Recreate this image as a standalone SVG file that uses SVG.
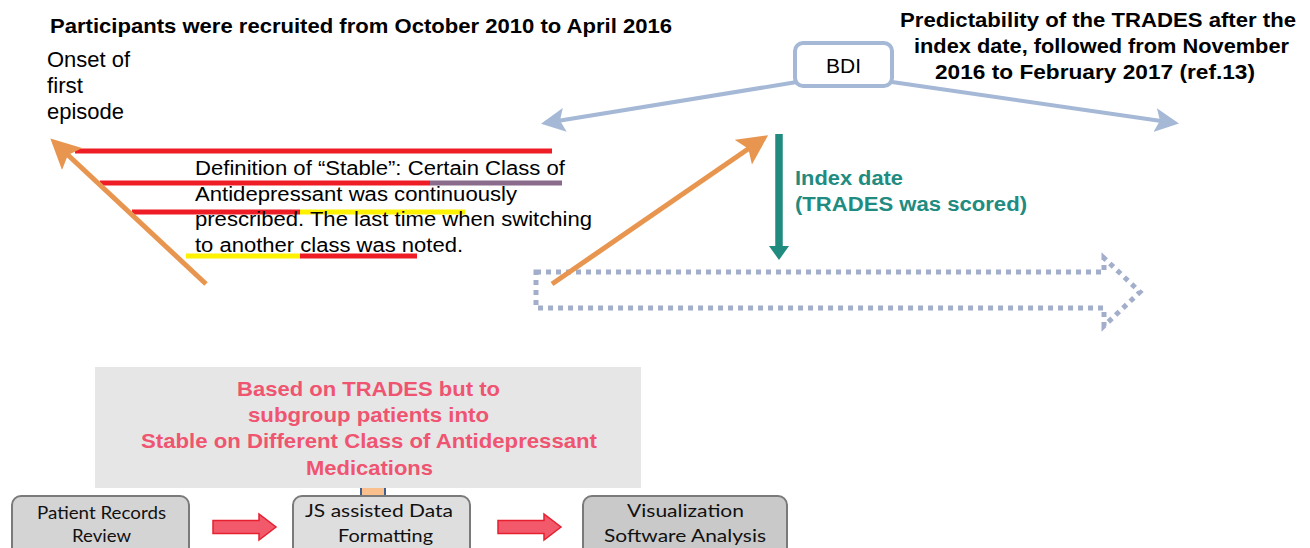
<svg xmlns="http://www.w3.org/2000/svg" width="1310" height="548" viewBox="0 0 1310 548">
<style>
.t{font-family:"Liberation Sans",Arial,sans-serif;fill:#000}
.b{font-weight:bold}
.teal{fill:#218b7f;font-weight:bold;font-family:"Liberation Sans",Arial,sans-serif}
.pink{fill:#ef5470;font-weight:bold;font-family:"Liberation Sans",Arial,sans-serif}
.cal{font-family:Lato,"Open Sans",sans-serif;fill:#111}
.box{stroke:#7a7a7a;stroke-width:2}
.blk{fill:#f25a6c;stroke:#e5202f;stroke-width:1.5}
</style>
<defs>
<marker id="mo" markerWidth="6" markerHeight="6" refX="5" refY="3" orient="auto" markerUnits="strokeWidth"><path d="M0,0 L6,3 L0,6 L1.2,3 Z" fill="#e8954f"/></marker>
<marker id="mb" markerWidth="6" markerHeight="6" refX="5" refY="3" orient="auto" markerUnits="strokeWidth"><path d="M0,0 L6,3 L0,6 L1.2,3 Z" fill="#a5b8d6"/></marker>
</defs>
<rect width="1310" height="548" fill="#fff"/>

<g id="title-left">
<text class="t b" x="50" y="33" font-size="20.5" textLength="622" lengthAdjust="spacingAndGlyphs">Participants were recruited from October 2010 to April 2016</text>
</g>
<g id="onset">
<text class="t" x="47" y="67" font-size="21.5" textLength="83" lengthAdjust="spacingAndGlyphs">Onset of</text>
<text class="t" x="47" y="93" font-size="21.5" textLength="36" lengthAdjust="spacingAndGlyphs">first</text>
<text class="t" x="47" y="119" font-size="21.5" textLength="77" lengthAdjust="spacingAndGlyphs">episode</text>
</g>
<g id="title-right">
<text class="t b" x="900" y="27" font-size="20" textLength="396" lengthAdjust="spacingAndGlyphs">Predictability of the TRADES after the</text>
<text class="t b" x="914" y="53" font-size="20" textLength="375" lengthAdjust="spacingAndGlyphs">index date, followed from November</text>
<text class="t b" x="935" y="79" font-size="20" textLength="320" lengthAdjust="spacingAndGlyphs">2016 to February 2017 (ref.13)</text>
</g>

<g id="stripes">
<line x1="75" y1="151" x2="552" y2="151" stroke="#ee1c25" stroke-width="5"/>
<line x1="100" y1="183" x2="430" y2="183" stroke="#ee1c25" stroke-width="5"/>
<line x1="430" y1="183" x2="562" y2="183" stroke="#8b6b8b" stroke-width="5"/>
<line x1="132" y1="212" x2="300" y2="212" stroke="#ee1c25" stroke-width="5"/>
<line x1="300" y1="212" x2="465" y2="212" stroke="#fff200" stroke-width="5"/>
<line x1="186" y1="256" x2="300" y2="256" stroke="#fff200" stroke-width="5"/>
<line x1="300" y1="256" x2="417" y2="256" stroke="#ee1c25" stroke-width="5"/>
</g>

<g id="definition">
<text class="t" x="195" y="175" font-size="19.5" textLength="370" lengthAdjust="spacingAndGlyphs">Definition of “Stable”: Certain Class of</text>
<text class="t" x="195" y="201" font-size="19.5" textLength="322" lengthAdjust="spacingAndGlyphs">Antidepressant was continuously</text>
<text class="t" x="195" y="226" font-size="19.5" textLength="397" lengthAdjust="spacingAndGlyphs">prescribed. The last time when switching</text>
<text class="t" x="195" y="252" font-size="19.5" textLength="268" lengthAdjust="spacingAndGlyphs">to another class was noted.</text>
</g>

<g id="timeline">
<path d="M536,272 H1104 V258 L1140,292 L1104,326 V308 H536 Z" fill="none" stroke="#a3aecb" stroke-width="5" stroke-dasharray="5,5"/>
</g>

<g id="bdi">
<rect x="795" y="43" width="97" height="43" rx="8" fill="#fff" stroke="#a5b8d6" stroke-width="4"/>
<text class="t" x="826" y="73" font-size="20.5" textLength="35" lengthAdjust="spacingAndGlyphs">BDI</text>
</g>

<g id="index-date">
<text class="teal" x="795" y="185" font-size="20" textLength="108" lengthAdjust="spacingAndGlyphs">Index date</text>
<text class="teal" x="795" y="211" font-size="20" textLength="232" lengthAdjust="spacingAndGlyphs">(TRADES was scored)</text>
</g>

<g id="connectors">
<line x1="206" y1="284" x2="54" y2="142" stroke="#e8954f" stroke-width="5" marker-end="url(#mo)"/>
<line x1="552" y1="284" x2="764" y2="138" stroke="#e8954f" stroke-width="5" marker-end="url(#mo)"/>
<line x1="797" y1="82" x2="545" y2="123" stroke="#a5b8d6" stroke-width="4" marker-end="url(#mb)"/>
<line x1="892" y1="82" x2="1175" y2="123" stroke="#a5b8d6" stroke-width="4" marker-end="url(#mb)"/>
<line x1="779" y1="134" x2="779" y2="248" stroke="#218b7f" stroke-width="7.5"/>
<path d="M769,246 H789 L779,260 Z" fill="#218b7f"/>
<path d="M213,520.5 H259 V514 L276,527 L259,540 V533.5 H213 Z" class="blk"/>
<path d="M498,520.5 H544 V514 L561,527 L544,540 V533.5 H498 Z" class="blk"/>
<rect x="361" y="488" width="24" height="8" fill="#f9c08d"/>
<line x1="361" y1="488" x2="361" y2="496" stroke="#3d5e8e" stroke-width="2"/>
<line x1="385" y1="488" x2="385" y2="496" stroke="#3d5e8e" stroke-width="2"/>
</g>

<g id="subgroup">
<rect x="95" y="367" width="546" height="121" fill="#e6e6e6"/>
<text class="pink" x="237" y="396" font-size="21" textLength="263" lengthAdjust="spacingAndGlyphs">Based on TRADES but to</text>
<text class="pink" x="248" y="422" font-size="21" textLength="241" lengthAdjust="spacingAndGlyphs">subgroup patients into</text>
<text class="pink" x="141" y="448" font-size="21" textLength="456" lengthAdjust="spacingAndGlyphs">Stable on Different Class of Antidepressant</text>
<text class="pink" x="306" y="475" font-size="21" textLength="127" lengthAdjust="spacingAndGlyphs">Medications</text>
</g>

<g id="review">
<rect class="box" x="12" y="496" width="177" height="64" rx="9" fill="#d4d4d4"/>
<text class="cal" x="37" y="519" font-size="17" textLength="129" lengthAdjust="spacingAndGlyphs">Patient Records</text>
<text class="cal" x="72" y="542" font-size="17" textLength="59" lengthAdjust="spacingAndGlyphs">Review</text>
</g>
<g id="formatting">
<rect class="box" x="293" y="496" width="177" height="64" rx="9" fill="#dedede"/>
<text class="cal" x="305" y="517" font-size="18" textLength="148" lengthAdjust="spacingAndGlyphs">JS assisted Data</text>
<text class="cal" x="338" y="542" font-size="18" textLength="95" lengthAdjust="spacingAndGlyphs">Formatting</text>
</g>
<g id="analysis">
<rect class="box" x="583" y="496" width="204" height="64" rx="9" fill="#c9c9c9"/>
<text class="cal" x="627" y="517" font-size="18" textLength="117" lengthAdjust="spacingAndGlyphs">Visualization</text>
<text class="cal" x="604" y="542" font-size="18" textLength="162" lengthAdjust="spacingAndGlyphs">Software Analysis</text>
</g>
</svg>
